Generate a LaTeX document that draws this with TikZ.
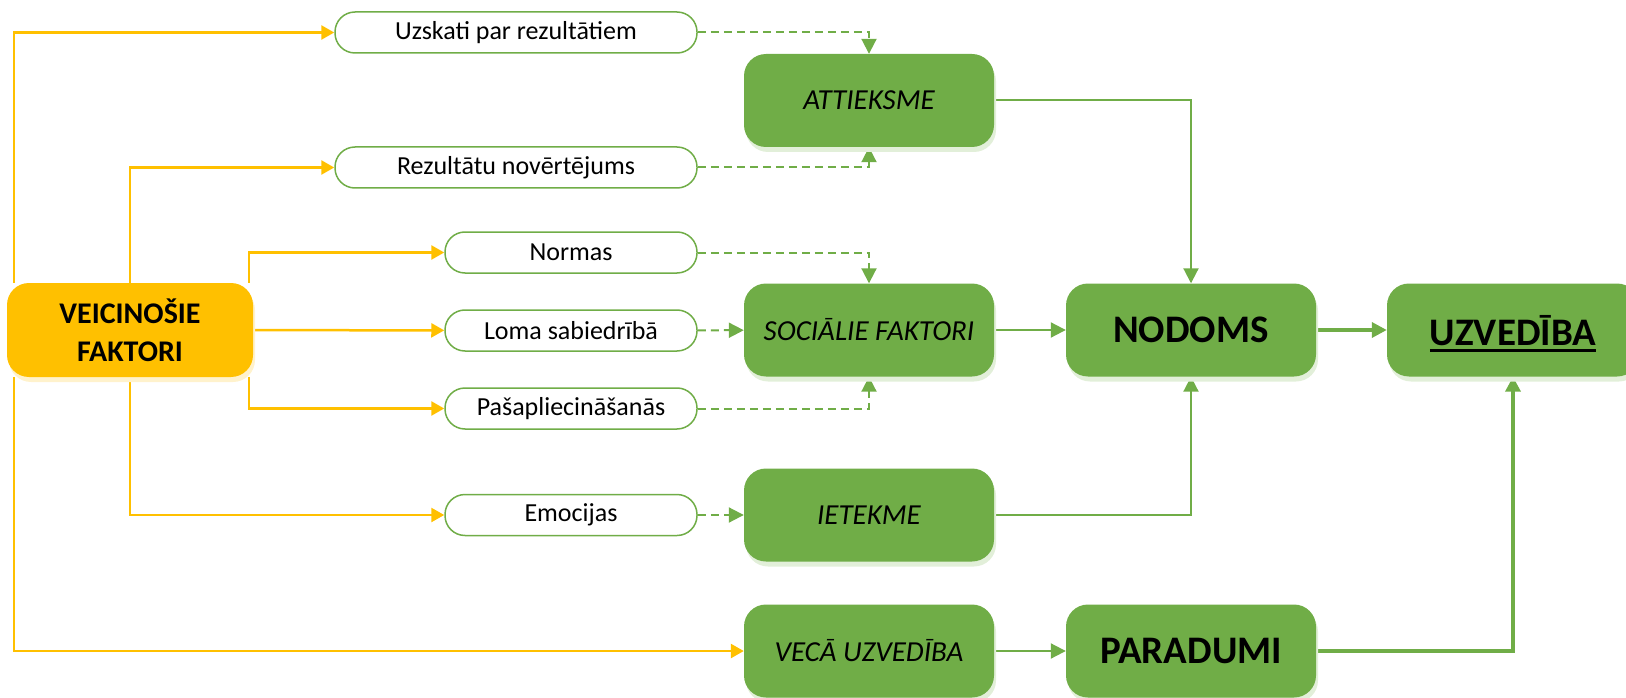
\documentclass[tikz,border=0pt]{standalone}
\usepackage{fontspec}
\setmainfont{Carlito}
\usetikzlibrary{arrows.meta,shadows,backgrounds}
\definecolor{dzeltena}{HTML}{FFC000}
\definecolor{zala}{HTML}{70AD47}
\definecolor{zalaena}{HTML}{E2EFD9}
\definecolor{dzeltenaena}{HTML}{FFF2CC}
\newcommand{\apvilkt}[1]{\leavevmode\vtop{\hbox{#1}\kern4pt\hrule height 2.5pt}}
\tikzset{
  pill/.style={draw=zala, line width=1.5pt, fill=white, rounded corners=20pt,
    minimum height=41pt, inner sep=0pt, font=\fontsize{26}{31}\selectfont},
  zbox/.style={fill=zala, rounded corners=22pt, minimum width=250pt,
    minimum height=93pt, inner sep=0pt,
    drop shadow={shadow xshift=2pt, shadow yshift=-5pt, fill=zalaena, opacity=1}},
  vbox/.style={zbox, font=\itshape\fontsize{29}{35}\selectfont},
  lbox/.style={zbox, font=\bfseries\fontsize{39}{47}\selectfont},
  ylin/.style={draw=dzeltena, line width=2.5pt, -{Triangle[length=13pt,width=14pt]}},
  zlin/.style={draw=zala, line width=2pt, -{Triangle[length=15pt,width=15pt]}},
  zdash/.style={zlin, dash pattern=on 8pt off 5pt},
  zbiez/.style={zlin, line width=3.5pt}
}
\begin{document}
\begin{tikzpicture}[x=1pt, y=-1pt]
  \useasboundingbox (0,0) rectangle (1626,698);
  \node[fill=dzeltena, rounded corners=22pt, minimum width=246pt, minimum height=94pt,
    inner sep=0pt, align=center, font=\bfseries\fontsize{30}{37.7}\selectfont,
    drop shadow={shadow xshift=2pt, shadow yshift=-5pt, fill=dzeltenaena, opacity=1}]
    (vf) at (130,330) {VEICINOŠIE\\FAKTORI};
  \node[pill, minimum width=362pt] (uzsk) at (516,32.5) {Uzskati par rezultātiem};
  \node[pill, minimum width=362pt] (rezv) at (516,167.5) {Rezultātu novērtējums};
  \node[pill, minimum width=252pt] (norm) at (571,252.5) {Normas};
  \node[pill, minimum width=252pt] (loma) at (571,330.5) {Loma sabiedrībā};
  \node[pill, minimum width=252pt] (pasa) at (571,408.5) {Pašapliecināšanās};
  \node[pill, minimum width=252pt] (emoc) at (571,515) {Emocijas};
  \node[vbox] (att) at (869,100.5) {ATTIEKSME};
  \node[vbox] (soc) at (869,330) {SOCIĀLIE FAKTORI};
  \node[vbox] (iet) at (869,515) {IETEKME};
  \node[vbox] (vec) at (869,651) {VECĀ UZVEDĪBA};
  \node[lbox] (nod) at (1191,330) {NODOMS};
  \node[lbox] (par) at (1191,651) {PARADUMI};
  \node[lbox, minimum width=252pt, text depth=0pt] (uzv) at (1513,330) {\apvilkt{UZVEDĪBA}};
  \begin{scope}[on background layer]
    \draw[ylin] ([xshift=7pt]vf.north west) |- (uzsk);
    \draw[ylin] ([xshift=7pt]vf.south west) |- (vec);
    \draw[ylin] (vf.north) |- (rezv);
    \draw[ylin] (vf.south) |- (emoc);
    \draw[ylin] ([xshift=-4pt]vf.north east) |- (norm);
    \draw[ylin] ([xshift=-4pt]vf.south east) |- (pasa);
    \draw[ylin] (vf) -- (loma);
    \draw[zdash] (uzsk) -| (att);
    \draw[zdash] (rezv) -| (att);
    \draw[zdash] (norm) -| (soc);
    \draw[zdash] (loma) -- (soc);
    \draw[zdash] (pasa) -| (soc);
    \draw[zdash] (emoc) -- (iet);
    \draw[zlin] (att) -| (nod);
    \draw[zlin] (soc) -- (nod);
    \draw[zlin] (iet) -| (nod);
    \draw[zlin] (vec) -- (par);
    \draw[zbiez] (nod) -- (uzv);
    \draw[zbiez] (par) -| (uzv);
  \end{scope}
\end{tikzpicture}
\end{document}
